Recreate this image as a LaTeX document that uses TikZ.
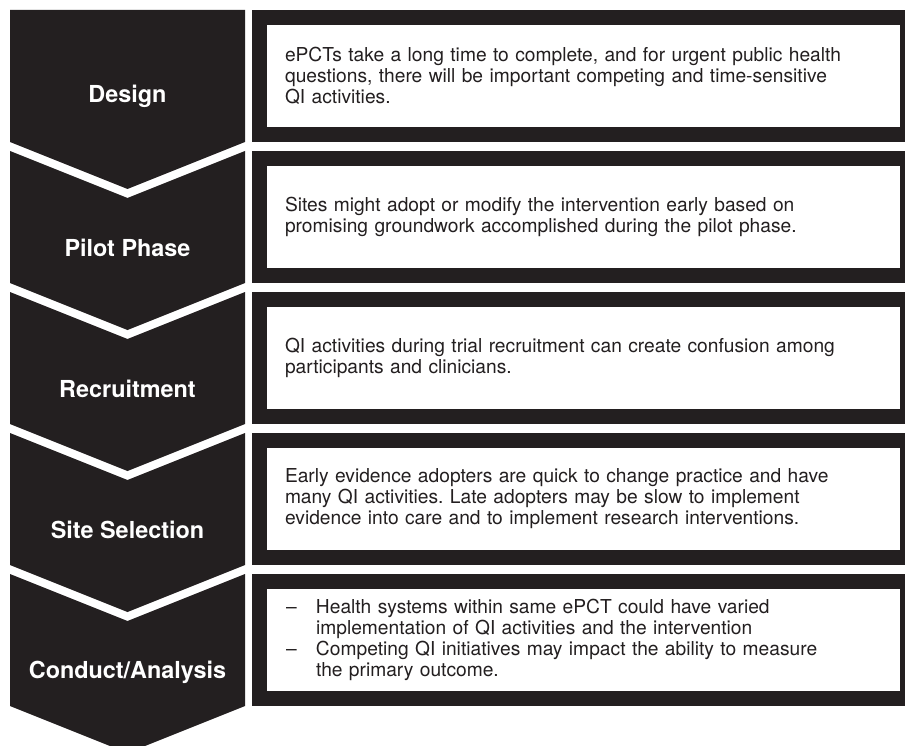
\documentclass[tikz,border=0pt]{standalone}
\usepackage{fontspec}
\usepackage{tikz}
\setmainfont{TeX Gyre Heros}
\definecolor{ink}{RGB}{35,31,32}
\frenchspacing

\begin{document}
\begin{tikzpicture}[x=1pt, y=-1pt,
    phase/.style={text=white, font=\fontsize{23.4}{26}\selectfont\bfseries},
    notebox/.style={draw=ink, line width=15pt, fill=white, minimum width=648pt,
        minimum height=117pt, text width=597pt, inner xsep=25.5pt, align=left,
        text=ink, font=\fontsize{19.2}{21}\selectfont}]
    \useasboundingbox (0,0) rectangle (905,746);
    \clip (0,0) rectangle (905,746);

    % Chevrons
    \fill[ink] (10,10) -- (245,10) -- (245,142) -- (127.5,189) -- (10,142) -- cycle;
    \fill[ink] (10,151) -- (127.5,198) -- (245,151) -- (245,283) -- (127.5,330) -- (10,283) -- cycle;
    \fill[ink] (10,292) -- (127.5,339) -- (245,292) -- (245,424) -- (127.5,471) -- (10,424) -- cycle;
    \fill[ink] (10,433) -- (127.5,480) -- (245,433) -- (245,565) -- (127.5,612) -- (10,565) -- cycle;
    \fill[ink] (10,574) -- (127.5,621) -- (245,574) -- (245,706) -- (127.5,753) -- (10,706) -- cycle;

    % Phase names
    \node[phase] (design) at (127.5,96) {Design};
    \node[phase] (pilot) at (127.5,248) {Pilot Phase};
    \node[phase] (recruit) at (127.5,389) {Recruitment};
    \node[phase] (site) at (127.5,530) {Site Selection};
    \node[phase] (conduct) at (127.5,672) {Conduct/Analysis};

    % Notes
    \node[notebox] (design-note) at (583.5,76) {ePCTs take a long time to complete, and for urgent public health\\
        questions, there will be important competing and time-sensitive\\
        QI activities.};
    \node[notebox] (pilot-note) at (583.5,217) {Sites might adopt or modify the intervention early based on\\
        promising groundwork accomplished during the pilot phase.};
    \node[notebox] (recruit-note) at (583.5,358) {QI activities during trial recruitment can create confusion among\\
        participants and clinicians.};
    \node[notebox] (site-note) at (583.5,499) {Early evidence adopters are quick to change practice and have\\
        many QI activities. Late adopters may be slow to implement\\
        evidence into care and to implement research interventions.};
    \node[notebox] (conduct-note) at (583.5,640) {\makebox[31pt][l]{\hspace*{1pt}–}Health systems within same ePCT could have varied\\
        \hspace*{31pt}implementation of QI activities and the intervention\\
        \makebox[31pt][l]{\hspace*{1pt}–}Competing QI initiatives may impact the ability to measure\\
        \hspace*{31pt}the primary outcome.};
\end{tikzpicture}
\end{document}
